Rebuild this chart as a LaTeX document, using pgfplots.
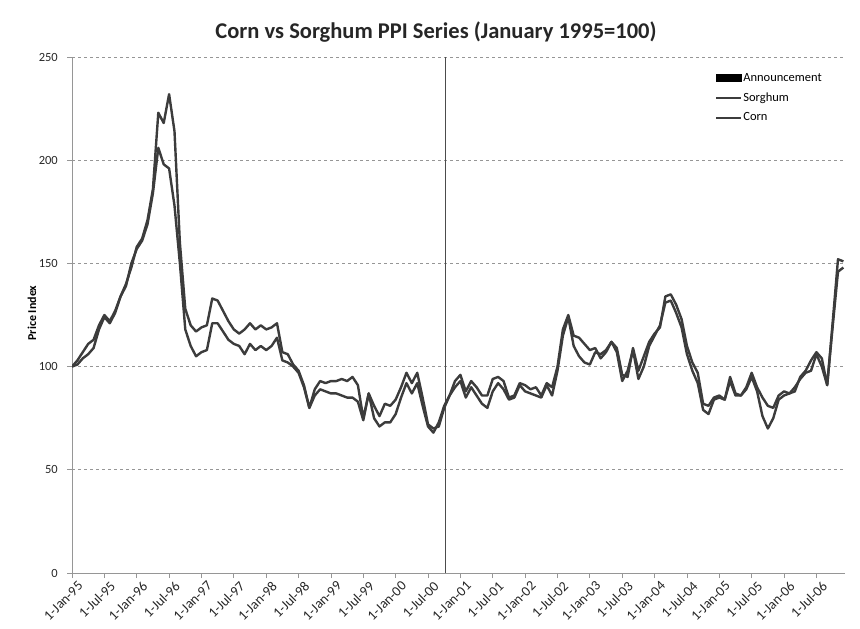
\documentclass[border=0pt]{standalone}
\usepackage{pgfplots}
\pgfplotsset{compat=1.18}
\usepackage{pgfplotstable}
\usepackage{fontspec}
\setmainfont{Carlito}
\definecolor{lineg}{HTML}{3C3C3C}
\definecolor{axg}{HTML}{969696}
\pgfplotstableread{
m a b
0 100 100
1 103 101
2 107 104
3 111 106
4 113 109
5 120 118
6 125 124
7 122 121
8 127 126
9 134 134
10 140 139
11 148 150
12 158 157
13 162 161
14 171 169
15 186 184
16 223 206
17 218 198
18 232 196
19 214 178
20 160 150
21 128 118
22 120 110
23 117 105
24 119 107
25 120 108
26 133 121
27 132 121
28 127 117
29 122 113
30 118 111
31 116 110
32 118 106
33 121 111
34 118 108
35 120 110
36 118 108
37 119 110
38 121 114
39 107 103
40 106 102
41 101 100
42 98 97
43 91 90
44 80 80
45 89 86
46 93 89
47 92 88
48 93 87
49 93 87
50 94 86
51 93 85
52 95 85
53 91 83
54 75 74
55 87 87
56 81 75
57 76 71
58 82 73
59 81 73
60 84 77
61 90 85
62 97 92
63 92 87
64 97 92
65 85 81
66 72 71
67 70 68
68 71 73
69 80 81
70 86 86
71 93 90
72 96 93
73 88 85
74 93 90
75 90 86
76 86 82
77 86 80
78 94 88
79 95 92
80 93 89
81 85 84
82 86 85
83 92 91
84 91 88
85 89 87
86 90 86
87 86 85
88 92 91
89 90 86
90 100 98
91 118 115
92 125 124
93 115 110
94 114 105
95 111 102
96 108 101
97 109 107
98 104 106
99 107 108
100 112 112
101 109 107
102 96 93
103 95 98
104 109 108
105 98 94
106 105 100
107 112 110
108 116 115
109 119 120
110 134 131
111 135 132
112 130 126
113 123 119
114 110 106
115 102 98
116 97 92
117 82 79
118 81 77
119 85 84
120 86 85
121 84 84
122 95 93
123 87 86
124 86 86
125 90 89
126 97 95
127 90 88
128 85 76
129 81 70
130 80 75
131 86 84
132 88 86
133 87 87
134 88 90
135 95 94
136 98 97
137 103 98
138 107 106
139 104 100
140 91 91
141 121 119
142 152 146
143 151 148
}\ppidata
\begin{document}
\begin{tikzpicture}
\path[use as bounding box] (0pt,0pt) rectangle (860pt,-629pt);
\begin{axis}[
  at={(72pt,-573pt)}, anchor=south west,
  scale only axis, width=773pt, height=516pt,
  xmin=0, xmax=143.3, ymin=0, ymax=250,
  axis x line*=bottom, axis y line*=left,
  axis line style={axg, line width=1pt},
  xtick={0,6,...,138},
  xticklabels={1-Jan-95,1-Jul-95,1-Jan-96,1-Jul-96,1-Jan-97,1-Jul-97,1-Jan-98,1-Jul-98,1-Jan-99,1-Jul-99,1-Jan-00,1-Jul-00,1-Jan-01,1-Jul-01,1-Jan-02,1-Jul-02,1-Jan-03,1-Jul-03,1-Jan-04,1-Jul-04,1-Jan-05,1-Jul-05,1-Jan-06,1-Jul-06},
  ytick={0,50,...,250},
  tick align=outside, major tick length=5pt,
  tick style={axg, line width=0.8pt},
  ymajorgrids, grid style={dashed, axg, line width=0.8pt},
  /pgf/number format/assume math mode=true,
  tick label style={text=black!85},
  xticklabel style={font=\fontsize{14}{16}\selectfont, rotate=45, anchor=east, inner sep=1pt, xshift=3pt, yshift=-10pt},
  yticklabel style={font=\fontsize{12.5}{14}\selectfont, inner sep=3pt, xshift=-6pt},
  legend style={at={(0.832,0.971)}, anchor=north west, draw=none, fill=none,
    font=\fontsize{12.5}{14}\selectfont, row sep=8pt, inner sep=0pt,
    nodes={inner sep=1pt}},
  legend cell align=left,
]
\addlegendimage{legend image code/.code={\fill[black] (0pt,-3.4pt) rectangle (25pt,3.4pt);}}
\addlegendentry{Announcement}
\addplot[black!70, line width=1pt, forget plot] coordinates {(69.2,0) (69.2,250)};
\addplot[lineg, line width=2.4pt, line join=round,
  legend image code/.code={\draw[lineg, line width=2pt] (0pt,0pt) -- (25pt,0pt);}] table[x=m, y=b] {\ppidata};
\addlegendentry{Sorghum}
\addplot[lineg, line width=2.4pt, line join=round,
  legend image code/.code={\draw[lineg, line width=2pt] (0pt,0pt) -- (25pt,0pt);}] table[x=m, y=a] {\ppidata};
\addlegendentry{Corn}
\end{axis}
\node[font=\fontsize{22.5}{26}\selectfont\bfseries, text=black!85] at (436pt,-32pt) {Corn vs Sorghum PPI Series (January 1995=100)};
\node[rotate=90, font=\fontsize{12}{14}\selectfont\bfseries] at (32pt,-313pt) {Price Index};
\end{tikzpicture}
\end{document}
